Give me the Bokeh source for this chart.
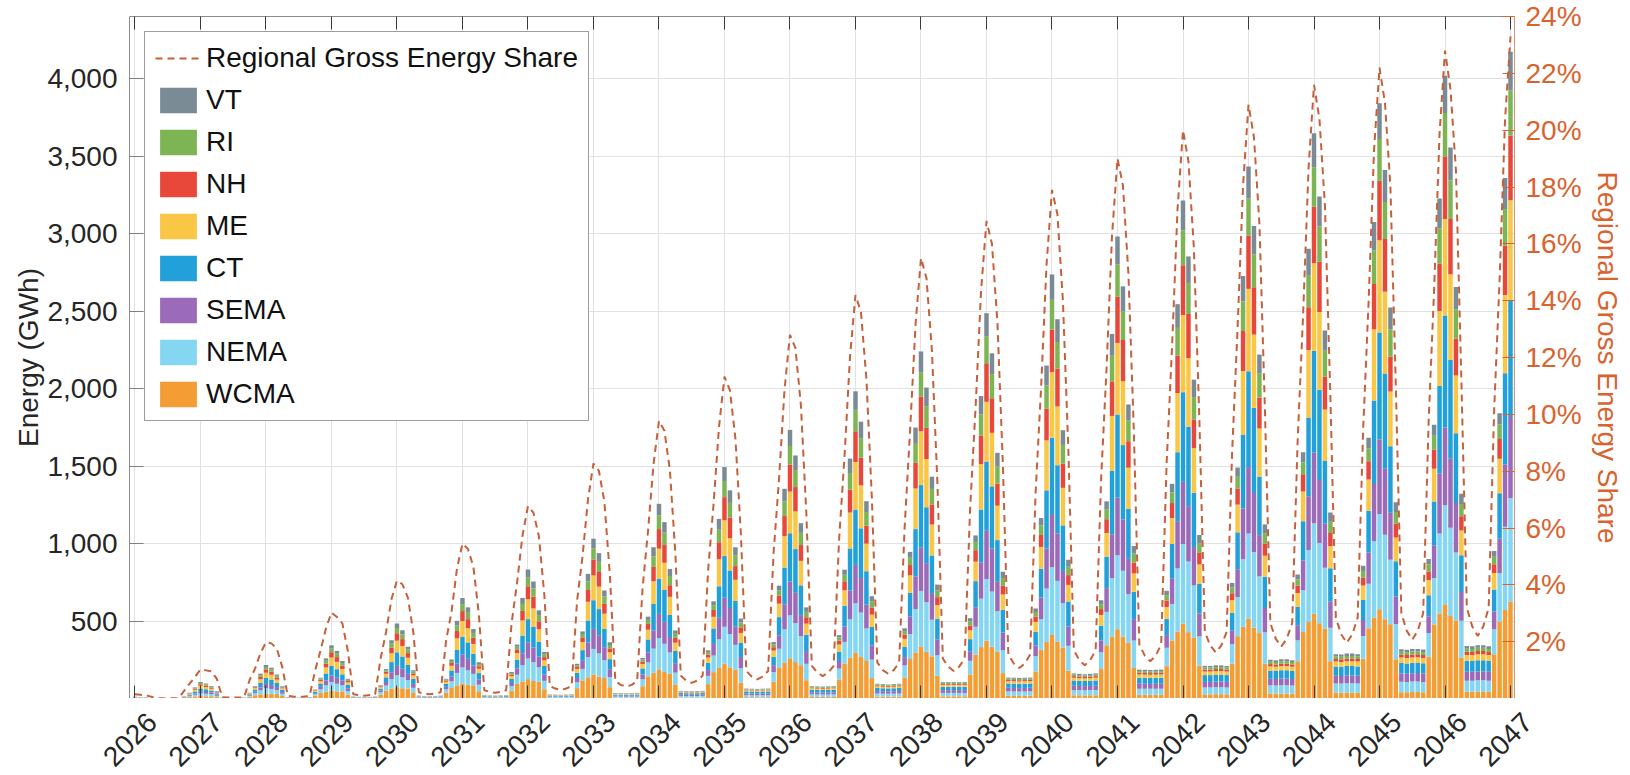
import math

from bokeh.core.properties import value
from bokeh.embed import file_html
from bokeh.models import (ColumnDataSource, FixedTicker, Legend, LegendItem,
                          LinearAxis, NumeralTickFormatter, Range1d)
from bokeh.plotting import figure
from bokeh.resources import INLINE

# Monthly energy by load zone (GWh), January 2026 through January 2047.
# One line per calendar year, Jan..Dec.
YEAR_LABELS = ["2026", "2027", "2028", "2029", "2030", "2031", "2032", "2033",
               "2034", "2035", "2036", "2037", "2038", "2039", "2040", "2041",
               "2042", "2043", "2044", "2045", "2046", "2047"]

# stacking order, bottom to top
REGIONS = ["WCMA", "NEMA", "SEMA", "CT", "ME", "NH", "RI", "VT"]
COLORS = ["#F39D34", "#85D6F3", "#9B6AB8", "#22A0DA",
          "#F9C646", "#E8483A", "#7DB554", "#7A8B96"]

WCMA = [
    1.8, 1.5, 1.3, 0.6, 0.1, 0.1, 0.1, 0.1, 0.3, 4.5, 10.0, 12.4,
    15.9, 14.6, 15.2, 9.6, 0.8, 0.5, 0.5, 0.5, 0.8, 11.1, 21.6, 27.2,
    32.4, 29.9, 29.5, 16.0, 1.2, 0.9, 0.8, 0.9, 1.2, 17.4, 36.2, 44.0,
    51.5, 46.1, 46.0, 25.4, 1.8, 1.4, 1.3, 1.4, 1.8, 25.8, 51.3, 63.9,
    73, 66, 64, 36, 2.5, 2.1, 2.0, 2.1, 2.5, 38, 68, 85,
    97, 88, 85, 47, 3.1, 2.6, 2.5, 2.6, 3.0, 51, 94, 110,
    125, 113, 108, 60, 3.4, 3.3, 3.1, 3.3, 3.4, 67, 117, 137,
    155, 141, 132, 73, 4.7, 4.6, 4.4, 4.6, 4.7, 79, 143, 166,
    188, 171, 159, 88, 6.4, 6.2, 6.1, 6.2, 6.4, 93, 170, 197,
    224, 201, 185, 103, 8.3, 8.2, 8.1, 8.2, 8.3, 109, 197, 230,
    260, 235, 215, 118, 10, 10, 10, 10, 10, 123, 224, 263,
    297, 268, 242, 132, 12, 12, 12, 12, 12, 136, 255, 297,
    336, 301, 272, 147, 14, 14, 14, 14, 14, 155, 284, 332,
    373, 334, 301, 164, 18, 17, 17, 17, 18, 174, 314, 365,
    410, 367, 329, 179, 21, 21, 20, 21, 21, 190, 343, 400,
    447, 399, 360, 197, 24, 24, 24, 24, 24, 209, 374, 432,
    482, 428, 391, 211, 27, 27, 28, 28, 27, 224, 402, 463,
    515, 457, 422, 225, 33, 32, 33, 33, 32, 240, 429, 493,
    547, 486, 451, 240, 37, 37, 38, 38, 37, 257, 454, 523,
    576, 511, 479, 253, 41, 41, 42, 42, 41, 270, 477, 548,
    603, 533, 504, 264, 44, 44, 45, 45, 44, 285, 497, 571,
    626,
]

NEMA = [
    1.9, 1.6, 1.2, 0.5, 0.2, 0.2, 0.2, 0.2, 0.4, 2.6, 6.3, 11.7,
    17.0, 15.5, 13.2, 8.6, 1.3, 0.8, 0.8, 0.8, 1.3, 6.3, 13.6, 25.6,
    34.6, 31.8, 25.6, 14.4, 1.9, 1.5, 1.3, 1.5, 1.9, 9.9, 22.8, 41.4,
    54.9, 49.1, 39.9, 22.9, 2.9, 2.3, 2.1, 2.3, 2.9, 14.6, 32.3, 60.2,
    77, 71, 55, 33, 4.0, 3.4, 3.2, 3.4, 4.0, 22, 43, 80,
    104, 94, 74, 42, 5.0, 4.2, 4.0, 4.2, 4.8, 29, 59, 104,
    133, 121, 94, 54, 5.5, 5.3, 5.0, 5.3, 5.5, 38, 74, 129,
    165, 150, 115, 65, 7.6, 7.4, 7.1, 7.4, 7.6, 45, 90, 156,
    201, 182, 138, 79, 10.3, 10.1, 9.9, 10.1, 10.3, 53, 107, 185,
    239, 215, 161, 93, 13.4, 13.2, 13.0, 13.2, 13.4, 62, 124, 216,
    277, 251, 187, 106, 17, 16, 16, 16, 17, 70, 141, 248,
    317, 286, 210, 119, 20, 19, 19, 19, 20, 77, 161, 280,
    358, 321, 236, 132, 22, 22, 22, 22, 22, 88, 179, 312,
    398, 356, 262, 147, 28, 28, 28, 28, 28, 99, 198, 344,
    438, 392, 286, 161, 34, 33, 33, 33, 34, 108, 216, 376,
    477, 425, 313, 177, 39, 39, 39, 39, 39, 118, 236, 407,
    514, 456, 339, 190, 44, 44, 45, 45, 44, 127, 253, 436,
    549, 488, 366, 202, 52, 52, 53, 53, 52, 136, 270, 464,
    584, 518, 392, 216, 60, 60, 61, 61, 60, 146, 286, 492,
    615, 545, 416, 228, 67, 66, 67, 67, 66, 153, 300, 516,
    643, 569, 438, 238, 71, 71, 72, 72, 71, 162, 313, 537,
    668,
]

SEMA = [
    1.5, 1.3, 0.8, 0.4, 0.2, 0.2, 0.2, 0.2, 0.3, 1.8, 4.4, 8.8,
    13.3, 12.1, 9.6, 6.7, 1.0, 0.7, 0.7, 0.7, 1.0, 4.4, 9.6, 19.2,
    27.0, 24.9, 18.6, 11.2, 1.5, 1.2, 1.0, 1.2, 1.5, 7.0, 16.1, 31.1,
    42.9, 38.4, 29.0, 17.8, 2.4, 1.9, 1.7, 1.9, 2.4, 10.3, 22.8, 45.1,
    61, 55, 40, 25, 3.2, 2.7, 2.6, 2.7, 3.2, 15, 30, 60,
    81, 74, 54, 33, 4.1, 3.4, 3.2, 3.4, 3.9, 20, 42, 78,
    104, 94, 68, 42, 4.4, 4.3, 4.1, 4.3, 4.4, 27, 52, 96,
    129, 117, 84, 51, 6.1, 6.0, 5.8, 6.0, 6.1, 31, 63, 117,
    157, 142, 100, 61, 8.3, 8.2, 8.0, 8.2, 8.3, 37, 75, 139,
    187, 168, 117, 72, 10.9, 10.7, 10.5, 10.7, 10.9, 44, 87, 162,
    217, 196, 136, 82, 13, 13, 13, 13, 13, 49, 100, 186,
    248, 223, 153, 92, 16, 16, 15, 16, 16, 54, 114, 210,
    280, 251, 172, 103, 18, 18, 18, 18, 18, 62, 126, 234,
    311, 278, 190, 115, 23, 23, 22, 23, 23, 70, 140, 258,
    342, 306, 208, 125, 27, 27, 27, 27, 27, 76, 153, 282,
    372, 332, 228, 138, 32, 32, 31, 32, 32, 83, 166, 305,
    402, 357, 247, 148, 36, 36, 36, 36, 36, 89, 179, 327,
    429, 381, 266, 157, 42, 42, 43, 43, 42, 96, 191, 348,
    456, 405, 285, 168, 49, 48, 49, 49, 49, 103, 202, 369,
    480, 426, 303, 177, 54, 53, 54, 55, 54, 108, 212, 387,
    502, 444, 319, 185, 58, 57, 58, 58, 57, 114, 221, 403,
    522,
]

CT = [
    2.2, 1.8, 1.2, 0.5, 0.2, 0.2, 0.2, 0.2, 0.4, 2.3, 5.9, 12.8,
    19.1, 17.5, 13.6, 8.6, 1.3, 0.8, 0.8, 0.8, 1.3, 5.6, 12.8, 28.0,
    38.9, 35.8, 26.4, 14.4, 1.9, 1.5, 1.3, 1.5, 1.9, 8.7, 21.4, 45.3,
    61.7, 55.3, 41.1, 22.9, 2.9, 2.3, 2.1, 2.3, 2.9, 12.9, 30.4, 65.8,
    87, 79, 57, 33, 4.0, 3.4, 3.2, 3.4, 4.0, 19, 40, 88,
    117, 106, 76, 42, 5.0, 4.2, 4.0, 4.2, 4.8, 26, 56, 114,
    150, 136, 97, 54, 5.5, 5.3, 5.0, 5.3, 5.5, 34, 69, 141,
    185, 169, 118, 65, 7.6, 7.4, 7.1, 7.4, 7.6, 39, 85, 171,
    226, 205, 142, 79, 10.3, 10.1, 9.9, 10.1, 10.3, 47, 100, 203,
    269, 242, 166, 93, 13.4, 13.2, 13.0, 13.2, 13.4, 54, 117, 237,
    312, 282, 192, 106, 17, 16, 16, 16, 17, 61, 133, 271,
    357, 321, 216, 119, 20, 19, 19, 19, 20, 68, 151, 306,
    403, 361, 243, 132, 22, 22, 22, 22, 22, 78, 168, 341,
    447, 401, 269, 147, 28, 28, 28, 28, 28, 87, 186, 376,
    492, 440, 294, 161, 34, 33, 33, 33, 34, 95, 203, 412,
    536, 479, 322, 177, 39, 39, 39, 39, 39, 104, 222, 445,
    578, 513, 350, 190, 44, 44, 45, 45, 44, 112, 238, 477,
    618, 549, 377, 202, 53, 52, 53, 53, 52, 120, 254, 508,
    656, 583, 404, 216, 60, 60, 61, 61, 60, 129, 269, 538,
    691, 614, 429, 228, 67, 66, 67, 67, 66, 135, 282, 565,
    723, 640, 451, 238, 71, 71, 72, 72, 71, 143, 294, 588,
    751,
]

ME = [
    1.9, 1.6, 1.0, 0.4, 0.1, 0.1, 0.1, 0.1, 0.2, 1.7, 4.4, 11.0,
    16.4, 15.0, 11.2, 5.8, 0.7, 0.4, 0.4, 0.4, 0.7, 4.1, 9.6, 24.0,
    33.5, 30.8, 21.7, 9.6, 1.0, 0.8, 0.7, 0.8, 1.0, 6.4, 16.1, 38.9,
    53.2, 47.6, 33.9, 15.2, 1.5, 1.2, 1.1, 1.2, 1.5, 9.5, 22.8, 56.4,
    75, 68, 47, 22, 2.1, 1.8, 1.7, 1.8, 2.1, 14, 30, 75,
    100, 91, 63, 28, 2.6, 2.2, 2.1, 2.2, 2.5, 19, 42, 97,
    129, 117, 80, 36, 2.9, 2.8, 2.6, 2.8, 2.9, 25, 52, 121,
    160, 145, 98, 44, 4.0, 3.9, 3.7, 3.9, 4.0, 29, 63, 146,
    195, 176, 117, 53, 5.4, 5.3, 5.2, 5.3, 5.4, 34, 75, 174,
    231, 208, 137, 62, 7.0, 6.9, 6.8, 6.9, 7.0, 40, 87, 203,
    269, 243, 158, 71, 9, 9, 8, 9, 9, 45, 100, 232,
    307, 277, 178, 79, 10, 10, 10, 10, 10, 50, 114, 262,
    347, 311, 200, 88, 12, 12, 12, 12, 12, 57, 126, 293,
    385, 345, 222, 98, 15, 15, 15, 15, 15, 64, 140, 322,
    424, 379, 242, 107, 18, 17, 17, 17, 18, 70, 153, 353,
    462, 412, 266, 118, 21, 20, 20, 20, 21, 76, 166, 382,
    498, 442, 288, 126, 23, 23, 23, 23, 23, 82, 179, 409,
    532, 473, 311, 135, 27, 27, 28, 28, 27, 88, 191, 435,
    565, 502, 332, 144, 32, 31, 32, 32, 32, 94, 202, 461,
    595, 528, 353, 152, 35, 35, 35, 35, 35, 99, 212, 484,
    623, 551, 372, 159, 37, 37, 38, 38, 37, 105, 221, 504,
    647,
]

NH = [
    1.2, 1.0, 0.6, 0.2, 0.1, 0.1, 0.1, 0.1, 0.1, 0.9, 2.6, 6.9,
    10.6, 9.7, 7.2, 3.4, 0.4, 0.2, 0.2, 0.2, 0.4, 2.2, 5.6, 15.2,
    21.6, 19.9, 14.0, 5.6, 0.5, 0.4, 0.4, 0.4, 0.5, 3.5, 9.4, 24.6,
    34.3, 30.7, 21.8, 8.9, 0.8, 0.7, 0.6, 0.7, 0.8, 5.2, 13.3, 35.7,
    48, 44, 30, 13, 1.1, 1.0, 0.9, 1.0, 1.1, 8, 18, 48,
    65, 59, 40, 16, 1.4, 1.2, 1.1, 1.2, 1.4, 10, 24, 62,
    83, 76, 51, 21, 1.6, 1.5, 1.4, 1.5, 1.6, 13, 30, 76,
    103, 94, 63, 25, 2.2, 2.1, 2.0, 2.1, 2.2, 16, 37, 93,
    126, 114, 75, 31, 2.9, 2.9, 2.8, 2.9, 2.9, 19, 44, 110,
    149, 134, 88, 36, 3.8, 3.8, 3.7, 3.8, 3.8, 22, 51, 129,
    173, 157, 102, 41, 5, 5, 5, 5, 5, 25, 58, 147,
    198, 179, 115, 46, 6, 6, 5, 6, 6, 27, 66, 166,
    224, 201, 129, 52, 6, 6, 6, 6, 6, 31, 74, 185,
    249, 223, 143, 57, 8, 8, 8, 8, 8, 35, 81, 204,
    274, 245, 156, 63, 10, 10, 9, 10, 10, 38, 89, 223,
    298, 266, 171, 69, 11, 11, 11, 11, 11, 42, 97, 242,
    321, 285, 185, 74, 13, 13, 13, 13, 13, 45, 104, 259,
    343, 305, 200, 79, 15, 15, 15, 15, 15, 48, 111, 276,
    365, 324, 214, 84, 17, 17, 17, 17, 17, 51, 118, 292,
    384, 341, 227, 89, 19, 19, 19, 19, 19, 54, 124, 306,
    402, 356, 239, 92, 20, 20, 21, 21, 20, 57, 129, 319,
    417,
]

RI = [
    0.8, 0.7, 0.5, 0.2, 0.1, 0.1, 0.1, 0.1, 0.1, 0.8, 1.9, 5.1,
    7.4, 6.8, 5.6, 2.9, 0.4, 0.2, 0.2, 0.2, 0.4, 1.9, 4.0, 11.2,
    15.1, 13.9, 10.9, 4.8, 0.5, 0.4, 0.4, 0.4, 0.5, 2.9, 6.7, 18.1,
    24.0, 21.5, 16.9, 7.6, 0.8, 0.7, 0.6, 0.7, 0.8, 4.3, 9.5, 26.3,
    34, 31, 23, 11, 1.1, 1.0, 0.9, 1.0, 1.1, 6, 13, 35,
    45, 41, 31, 14, 1.4, 1.2, 1.1, 1.2, 1.4, 9, 17, 45,
    58, 53, 40, 18, 1.6, 1.5, 1.4, 1.5, 1.6, 11, 22, 56,
    72, 66, 49, 22, 2.2, 2.1, 2.0, 2.1, 2.2, 13, 26, 68,
    88, 80, 59, 26, 2.9, 2.9, 2.8, 2.9, 2.9, 16, 31, 81,
    104, 94, 68, 31, 3.8, 3.8, 3.7, 3.8, 3.8, 18, 36, 95,
    121, 110, 79, 35, 5, 5, 5, 5, 5, 20, 42, 108,
    139, 125, 89, 40, 6, 6, 5, 6, 6, 23, 47, 122,
    157, 140, 100, 44, 6, 6, 6, 6, 6, 26, 53, 137,
    174, 156, 111, 49, 8, 8, 8, 8, 8, 29, 58, 150,
    192, 171, 121, 54, 10, 10, 9, 10, 10, 32, 64, 165,
    209, 186, 133, 59, 11, 11, 11, 11, 11, 35, 69, 178,
    225, 200, 144, 63, 13, 13, 13, 13, 13, 37, 75, 191,
    240, 213, 155, 67, 15, 15, 15, 15, 15, 40, 79, 203,
    255, 227, 166, 72, 17, 17, 17, 17, 17, 43, 84, 215,
    269, 239, 176, 76, 19, 19, 19, 19, 19, 45, 88, 226,
    281, 249, 186, 79, 20, 20, 21, 21, 20, 48, 92, 235,
    292,
]

VT = [
    0.7, 0.6, 0.4, 0.2, 0.1, 0.1, 0.1, 0.1, 0.1, 0.6, 1.5, 4.4,
    6.4, 5.8, 4.4, 2.4, 0.3, 0.2, 0.2, 0.2, 0.3, 1.5, 3.2, 9.6,
    13.0, 11.9, 8.5, 4.0, 0.5, 0.4, 0.3, 0.4, 0.5, 2.3, 5.4, 15.5,
    20.6, 18.4, 13.3, 6.4, 0.7, 0.6, 0.5, 0.6, 0.7, 3.4, 7.6, 22.6,
    29, 26, 18, 9, 1.0, 0.8, 0.8, 0.8, 1.0, 5, 10, 30,
    39, 35, 25, 12, 1.2, 1.0, 1.0, 1.0, 1.2, 7, 14, 39,
    50, 45, 31, 15, 1.3, 1.3, 1.2, 1.3, 1.3, 9, 17, 48,
    62, 56, 38, 18, 1.8, 1.8, 1.7, 1.8, 1.8, 10, 21, 59,
    75, 68, 46, 22, 2.5, 2.4, 2.4, 2.4, 2.5, 12, 25, 70,
    90, 81, 54, 26, 3.2, 3.2, 3.1, 3.2, 3.2, 15, 29, 81,
    104, 94, 62, 29, 4, 4, 4, 4, 4, 16, 33, 93,
    119, 107, 70, 33, 5, 5, 5, 5, 5, 18, 38, 105,
    134, 120, 79, 37, 5, 5, 5, 5, 5, 21, 42, 117,
    149, 134, 87, 41, 7, 7, 7, 7, 7, 23, 47, 129,
    164, 147, 95, 45, 8, 8, 8, 8, 8, 25, 51, 141,
    179, 160, 104, 49, 9, 9, 9, 9, 9, 28, 55, 153,
    193, 171, 113, 53, 11, 10, 11, 11, 10, 30, 60, 164,
    206, 183, 122, 56, 13, 12, 13, 13, 12, 32, 64, 174,
    219, 194, 131, 60, 14, 14, 15, 15, 14, 34, 67, 184,
    230, 205, 139, 63, 16, 16, 16, 16, 16, 36, 71, 194,
    241, 213, 146, 66, 17, 17, 17, 17, 17, 38, 74, 201,
    250,
]

# Share of regional gross monthly energy (%), same months
SHARE_PCT = [
    0.15, 0.13, 0.11, 0.06, 0.01, 0.01, 0.0, 0.01, 0.01, 0.27, 0.52, 0.76,
    1.02, 0.99, 0.96, 0.69, 0.04, 0.035, 0.03, 0.035, 0.04, 0.65, 1.05, 1.60,
    1.98, 1.94, 1.75, 1.10, 0.09, 0.07, 0.06, 0.07, 0.09, 0.98, 1.69, 2.48,
    3.02, 2.87, 2.64, 1.67, 0.15, 0.12, 0.10, 0.12, 0.15, 1.40, 2.34, 3.50,
    4.15, 4.02, 3.55, 2.32, 0.22, 0.17, 0.15, 0.17, 0.22, 2.04, 3.06, 4.58,
    5.45, 5.26, 4.64, 2.96, 0.29, 0.23, 0.20, 0.23, 0.29, 2.65, 4.07, 5.74,
    6.77, 6.54, 5.71, 3.64, 0.44, 0.35, 0.30, 0.35, 0.44, 3.45, 5.01, 7.02,
    8.27, 8.01, 6.92, 4.36, 0.61, 0.48, 0.42, 0.48, 0.61, 3.90, 5.91, 8.25,
    9.77, 9.42, 8.04, 5.10, 0.80, 0.63, 0.55, 0.63, 0.80, 4.50, 6.84, 9.56,
    11.33, 10.84, 9.16, 5.82, 0.97, 0.77, 0.67, 0.77, 0.97, 5.14, 7.74, 10.87,
    12.80, 12.33, 10.32, 6.50, 1.15, 0.91, 0.79, 0.91, 1.15, 5.60, 8.55, 12.04,
    14.20, 13.60, 11.26, 7.06, 1.26, 1.00, 0.87, 1.00, 1.26, 6.01, 9.42, 13.16,
    15.50, 14.80, 12.26, 7.62, 1.41, 1.12, 0.97, 1.12, 1.41, 6.68, 10.23, 14.34,
    16.80, 16.00, 13.24, 8.25, 1.55, 1.23, 1.07, 1.23, 1.55, 7.25, 10.93, 15.27,
    17.90, 17.03, 13.99, 8.75, 1.70, 1.35, 1.17, 1.35, 1.70, 7.74, 11.65, 16.31,
    19.00, 18.05, 14.95, 9.37, 1.90, 1.51, 1.31, 1.51, 1.90, 8.28, 12.40, 17.23,
    20.00, 18.90, 15.83, 9.81, 2.35, 1.86, 1.62, 1.86, 2.35, 8.67, 13.03, 18.05,
    20.90, 19.75, 16.71, 10.23, 2.65, 2.10, 1.83, 2.10, 2.65, 9.06, 13.50, 18.66,
    21.60, 20.39, 17.36, 10.61, 2.84, 2.25, 1.96, 2.25, 2.84, 9.46, 13.94, 19.31,
    22.20, 20.96, 18.00, 10.92, 3.00, 2.38, 2.07, 2.38, 3.00, 9.75, 14.37, 19.88,
    22.80, 21.44, 18.60, 11.19, 3.19, 2.53, 2.20, 2.53, 3.19, 10.14, 14.74, 20.37,
    23.30,
]

ENERGY_TICKS = [500, 1000, 1500, 2000, 2500, 3000, 3500, 4000]
SHARE_TICKS = [2, 4, 6, 8, 10, 12, 14, 16, 18, 20, 22, 24]

series = dict(WCMA=WCMA, NEMA=NEMA, SEMA=SEMA, CT=CT, ME=ME, NH=NH, RI=RI, VT=VT)
n_months = len(SHARE_PCT)
for name, vals in series.items():
    if len(vals) != n_months:
        raise ValueError(f"{name} has {len(vals)} values, expected {n_months}")

FONT = "Liberation Sans"
TEXT = "#262626"
ORANGE = "#D9632E"
LINE = "#C5603A"

# page geometry (px)
PAGE_W = 1630
BORDER_L, BORDER_R, BORDER_T = 129, 116, 16
PLOT_H = 698          # main canvas ends at the bottom of the plot frame
LABEL_STRIP_H = 77    # slanted year names live in a strip underneath
X_START, X_END = -1.0, 252.73

src = ColumnDataSource(dict(month=list(range(n_months)), share=SHARE_PCT, **series))

p = figure(width=PAGE_W, height=PLOT_H, output_backend="svg", toolbar_location=None,
           x_range=Range1d(X_START, X_END), y_range=Range1d(0, 4400),
           min_border_left=BORDER_L, min_border_right=BORDER_R,
           min_border_top=BORDER_T, min_border_bottom=0,
           background_fill_color="white", border_fill_color="white",
           outline_line_color=None)
p.extra_y_ranges = {"share": Range1d(0, 24)}

bars = p.vbar_stack(REGIONS, x="month", width=0.82, color=COLORS,
                    line_color=None, source=src)
share_line = p.line("month", "share", source=src, y_range_name="share",
                    line_color=LINE, line_width=2.0, line_dash="7 5")

# year ticks sit on each January
year_ticks = [12 * i for i in range(len(YEAR_LABELS))]
x_ticker = FixedTicker(ticks=year_ticks)
y_ticker = FixedTicker(ticks=ENERGY_TICKS)


def bare_ticks(axis, color):
    axis.major_tick_in = 13
    axis.major_tick_out = 0
    axis.minor_tick_in = 0
    axis.minor_tick_out = 0
    axis.major_tick_line_color = color


# bottom axis: line and inward tick marks; the year names go in the strip below
xa = p.xaxis[0]
xa.ticker = x_ticker
xa.major_label_overrides = {t: "" for t in year_ticks}
xa.major_label_text_font_size = "0px"
xa.major_label_standoff = 0
xa.axis_line_color = "#8C8C8C"
bare_ticks(xa, "#3A3A3A")

ya = p.yaxis[0]
ya.ticker = y_ticker
ya.formatter = NumeralTickFormatter(format="0,0")
bare_ticks(ya, "#808080")
ya.major_tick_in = 14
ya.axis_line_color = "#8C8C8C"
ya.major_label_standoff = 12
ya.major_label_text_font = FONT
ya.major_label_text_font_size = "28px"
ya.major_label_text_color = TEXT
ya.axis_label = "Energy (GWh)"
ya.axis_label_text_font = FONT
ya.axis_label_text_font_size = "28px"
ya.axis_label_text_font_style = "normal"
ya.axis_label_text_color = TEXT
ya.axis_label_standoff = 0

ra = LinearAxis(y_range_name="share", ticker=FixedTicker(ticks=SHARE_TICKS),
                major_label_overrides={t: f"{t}%" for t in SHARE_TICKS},
                axis_label="Regional Gross Energy Share")
bare_ticks(ra, ORANGE)
ra.major_tick_in = 12
ra.axis_line_color = "#C9977A"
ra.major_label_standoff = 11
ra.major_label_text_font = FONT
ra.major_label_text_font_size = "28px"
ra.major_label_text_color = ORANGE
ra.axis_label_text_font = FONT
ra.axis_label_text_font_size = "28px"
ra.axis_label_text_font_style = "normal"
ra.axis_label_text_color = ORANGE
ra.axis_label_standoff = 7
p.add_layout(ra, "right")

ta = LinearAxis(ticker=FixedTicker(ticks=year_ticks),
                major_label_overrides={t: "" for t in year_ticks})
bare_ticks(ta, "#3A3A3A")
ta.major_label_text_font_size = "0px"
ta.axis_line_color = "#8C8C8C"
ta.major_label_standoff = 0
p.add_layout(ta, "above")

p.xgrid.ticker = x_ticker
p.ygrid.ticker = y_ticker
p.xgrid.grid_line_color = "#E2E2E2"
p.ygrid.grid_line_color = "#E2E2E2"

items = [LegendItem(label="Regional Gross Energy Share", renderers=[share_line])]
for name, rend in reversed(list(zip(REGIONS, bars))):
    items.append(LegendItem(label=name, renderers=[rend]))

legend = Legend(items=items, location="top_left", margin=15,
                padding=10, spacing=10, glyph_width=46, glyph_height=32,
                label_standoff=5, label_text_font=FONT,
                label_text_font_size="28px", label_text_color="#111111",
                border_line_color="#3C3C3C", border_line_width=1,
                background_fill_color="white", background_fill_alpha=1.0)
p.add_layout(legend)

# Strip under the plot carrying the slanted year names. It is its own page
# root, its frame spans the full page width, and its x range uses the same
# month scale as the plot frame above it.
px_per_month = (PAGE_W - BORDER_L - BORDER_R) / (X_END - X_START)
strip = figure(width=PAGE_W, height=LABEL_STRIP_H, output_backend="svg",
               toolbar_location=None,
               x_range=Range1d(X_START - BORDER_L / px_per_month,
                               X_END + BORDER_R / px_per_month),
               y_range=Range1d(-LABEL_STRIP_H, 0),
               x_axis_location=None, y_axis_location=None,
               min_border_left=0, min_border_right=0,
               min_border_top=0, min_border_bottom=0,
               background_fill_color="white", border_fill_color="white",
               outline_line_color=None)
strip.grid.visible = False
year_src = ColumnDataSource(dict(x=year_ticks, y=[-19] * len(year_ticks), text=YEAR_LABELS))
strip.text(x="x", y="y", text="text", source=year_src,
           angle=math.pi / 4, x_offset=17,
           text_align="right", text_baseline="middle",
           text_font=value(FONT), text_font_size=value("28px"), text_color=TEXT)

open("out.html", "w").write(file_html([p, strip], INLINE))
